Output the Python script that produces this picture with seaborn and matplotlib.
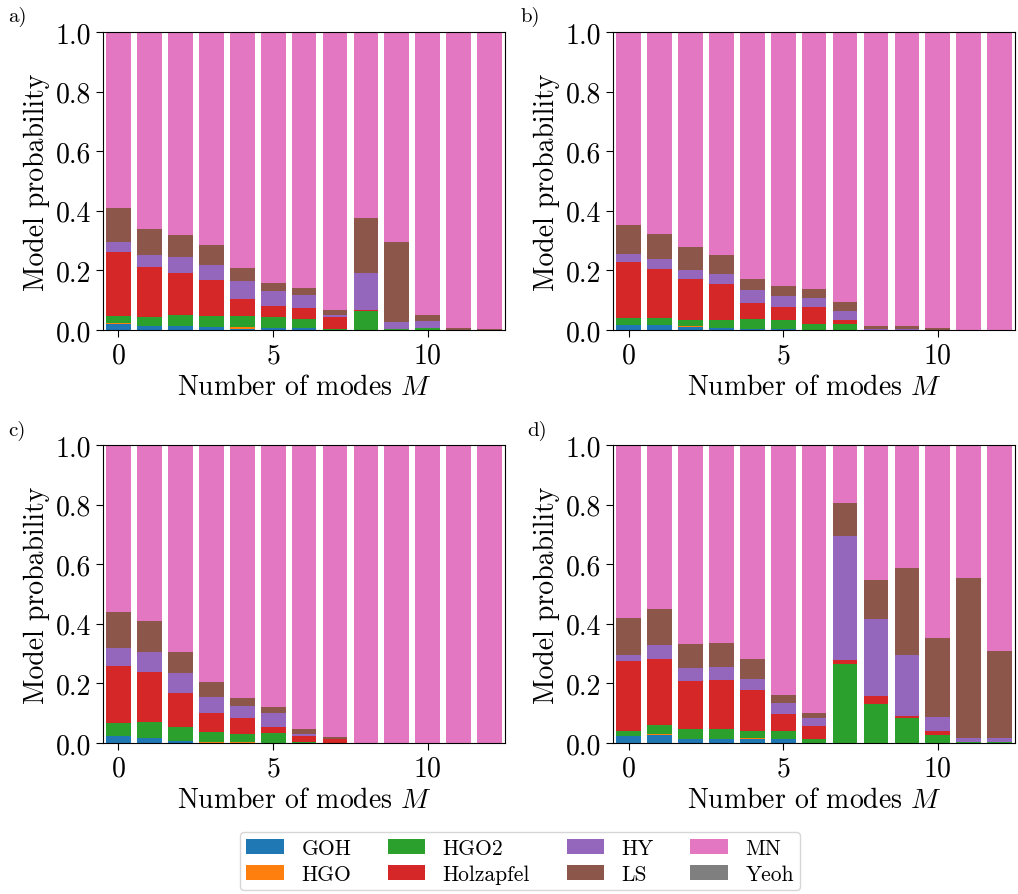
import numpy as np
import pandas as pd
import matplotlib
matplotlib.use("Agg")
import matplotlib.pyplot as plt
import seaborn as sns
from matplotlib.patches import Patch

plt.rcParams["font.family"] = "serif"
plt.rcParams["font.serif"] = ["cmr10", "DejaVu Serif"]
plt.rcParams["mathtext.fontset"] = "cm"
plt.rcParams["axes.formatter.use_mathtext"] = True

modes = list(range(13))
models = ["GOH", "HGO", "HGO2", "Holzapfel", "HY", "LS", "MN", "Yeoh"]
colors = sns.color_palette("tab10", 8)

# panel a)
a_goh = [0.019, 0.0125, 0.0125, 0.009, 0.0045, 0.006, 0.006, 0.001, 0, 0, 0, 0, 0]
a_hgo = [0.004, 0, 0, 0, 0.0055, 0, 0, 0, 0, 0, 0, 0, 0]
a_hgo2 = [0.023, 0.0315, 0.037, 0.037, 0.036, 0.0365, 0.031, 0.002, 0.064, 0.0045, 0.006, 0, 0]
a_holz = [0.214, 0.1675, 0.141, 0.1216, 0.0575, 0.0375, 0.0365, 0.0395, 0.002, 0, 0, 0, 0]
a_hy = [0.036, 0.0405, 0.054, 0.0504, 0.0605, 0.0505, 0.0435, 0.007, 0.125, 0.0215, 0.023, 0.001, 0]
a_ls = [0.114, 0.088, 0.074, 0.0677, 0.044, 0.027, 0.0236, 0.017, 0.186, 0.27, 0.0205, 0.005, 0.003]

# panel b)
b_goh = [0.016, 0.016, 0.0094, 0.005, 0.003, 0.003, 0.001, 0, 0, 0, 0, 0, 0]
b_hgo = [0, 0, 0.0034, 0, 0, 0, 0, 0, 0, 0, 0, 0, 0]
b_hgo2 = [0.0227, 0.0227, 0.0192, 0.027, 0.0335, 0.029, 0.0175, 0.0185, 0, 0, 0, 0, 0]
b_holz = [0.188, 0.165, 0.138, 0.121, 0.0525, 0.0438, 0.0573, 0.0165, 0, 0, 0, 0, 0]
b_hy = [0.027, 0.033, 0.03, 0.034, 0.044, 0.037, 0.03, 0.027, 0.004, 0.003, 0.001, 0, 0]
b_ls = [0.098, 0.0845, 0.078, 0.064, 0.037, 0.0337, 0.03, 0.0306, 0.011, 0.0095, 0.006, 0.001, 0.0005]

# panel c)
c_goh = [0.0246, 0.0179, 0.0067, 0, 0, 0, 0, 0, 0, 0, 0, 0, 0]
c_hgo = [0, 0, 0, 0.0045, 0.0045, 0, 0, 0, 0, 0, 0, 0, 0]
c_hgo2 = [0.0424, 0.0536, 0.0469, 0.0324, 0.0268, 0.0335, 0.0045, 0, 0, 0, 0, 0, 0]
c_holz = [0.191, 0.1665, 0.114, 0.0637, 0.0525, 0.0201, 0.0201, 0.0134, 0, 0, 0, 0, 0]
c_hy = [0.06, 0.067, 0.067, 0.0534, 0.0402, 0.047, 0.0067, 0, 0, 0, 0, 0, 0]
c_ls = [0.121, 0.104, 0.0703, 0.0505, 0.027, 0.0201, 0.0157, 0.0066, 0, 0, 0, 0, 0]

# panel d)
d_goh = [0.0244, 0.0267, 0.0144, 0.0144, 0.0122, 0.0144, 0, 0, 0, 0, 0, 0, 0]
d_hgo = [0, 0.0023, 0, 0, 0.0033, 0, 0, 0, 0, 0, 0, 0, 0]
d_hgo2 = [0.0145, 0.0299, 0.0312, 0.0334, 0.0234, 0.0266, 0.0144, 0.265, 0.1314, 0.0846, 0.0278, 0.0033, 0.0033]
d_holz = [0.236, 0.223, 0.1628, 0.1639, 0.1391, 0.057, 0.0436, 0.0136, 0.0266, 0.0067, 0.0132, 0, 0]
d_hy = [0.02, 0.047, 0.0436, 0.0433, 0.037, 0.037, 0.0266, 0.4144, 0.2577, 0.2037, 0.047, 0.0144, 0.0144]
d_ls = [0.124, 0.12, 0.08, 0.0805, 0.067, 0.0265, 0.0167, 0.1107, 0.1303, 0.2913, 0.264, 0.5353, 0.2913]

yeoh = [0] * 13

panels = {
    "a)": [a_goh, a_hgo, a_hgo2, a_holz, a_hy, a_ls],
    "b)": [b_goh, b_hgo, b_hgo2, b_holz, b_hy, b_ls],
    "c)": [c_goh, c_hgo, c_hgo2, c_holz, c_hy, c_ls],
    "d)": [d_goh, d_hgo, d_hgo2, d_holz, d_hy, d_ls],
}


def make_frame(series):
    rows = []
    arr = np.array(series)
    mn = 1.0 - arr.sum(axis=0)  # MN takes the rest of the probability
    vals = list(series) + [mn, yeoh]
    for name, v in zip(models, vals):
        for m, p in zip(modes, v):
            rows.append({"M": m, "p": max(p, 0.0), "model": name})
    return pd.DataFrame(rows)


fig = plt.figure(figsize=(10.18, 8.95), dpi=100)
positions = {
    "a)": [0.1012, 0.6302, 0.395, 0.333],
    "b)": [0.6022, 0.6302, 0.395, 0.333],
    "c)": [0.1012, 0.1687, 0.395, 0.333],
    "d)": [0.6022, 0.1687, 0.395, 0.333],
}
label_pos = {"a)": (0.008, 0.992), "b)": (0.511, 0.992), "c)": (0.008, 0.53), "d)": (0.518, 0.53)}

palette = dict(zip(models, colors))
for key, series in panels.items():
    ax = fig.add_axes(positions[key])
    df = make_frame(series)
    sns.histplot(data=df, x="M", weights="p", hue="model", hue_order=models[::-1],
                 multiple="stack", discrete=True, shrink=0.8, palette=palette,
                 alpha=1, linewidth=0, legend=False, ax=ax)
    ax.set_xlim(-0.5, 12.5)
    ax.set_ylim(0, 1)
    ax.set_xticks([0, 5, 10])
    ax.set_yticks(np.arange(0, 1.01, 0.2))
    ax.set_yticklabels([f"{t:.1f}" for t in np.arange(0, 1.01, 0.2)])
    ax.tick_params(labelsize=20, length=5)
    ax.set_xlabel("Number of modes $M$", fontsize=20)
    ax.set_ylabel("Model probability", fontsize=20)
    fig.text(*label_pos[key], key, fontsize=15, va="top", ha="left")

handles = [Patch(facecolor=c, label=m) for m, c in zip(models, colors)]
fig.legend(handles=handles, loc="lower center", bbox_to_anchor=(0.511, 0.002), ncol=4,
           fontsize=15.5, handlelength=1.75, handleheight=0.7, columnspacing=1.7,
           labelspacing=0.3, borderpad=0.3, borderaxespad=0.1)

fig.savefig("out.png", dpi=100)
